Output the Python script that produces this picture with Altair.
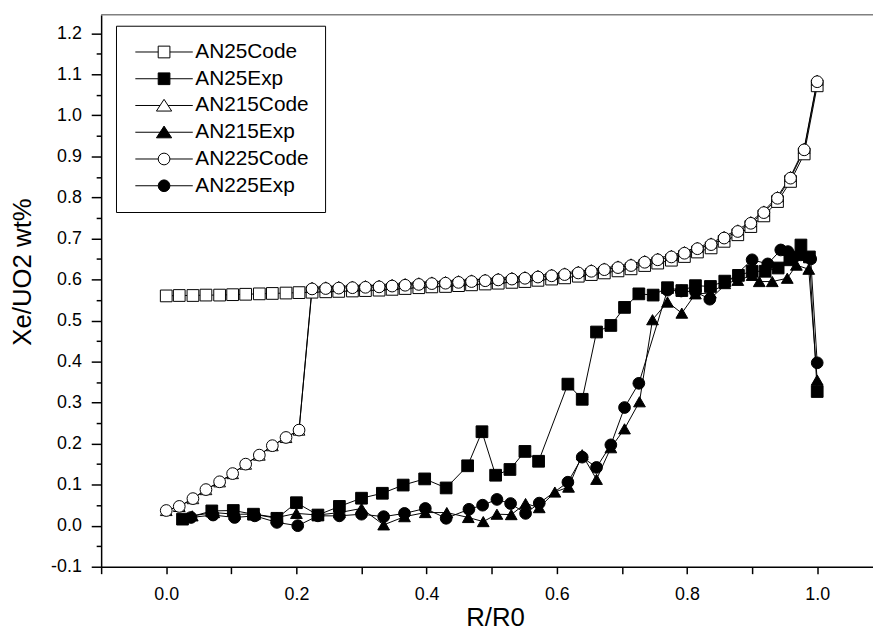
import altair as alt
import pandas as pd

FONT = "Liberation Sans"

series_names = ["AN25Code", "AN25Exp", "AN215Code", "AN215Exp", "AN225Code", "AN225Exp"]

code_x = [0.000, 0.020, 0.041, 0.061, 0.082, 0.102, 0.122, 0.143, 0.163, 0.184,
          0.204, 0.224, 0.245, 0.265, 0.286, 0.306, 0.327, 0.347, 0.367, 0.388,
          0.408, 0.429, 0.449, 0.469, 0.490, 0.510, 0.531, 0.551, 0.571, 0.592,
          0.612, 0.633, 0.653, 0.673, 0.694, 0.714, 0.735, 0.755, 0.776, 0.796,
          0.816, 0.837, 0.857, 0.878, 0.898, 0.918, 0.939, 0.959, 0.980, 1.000]

an25code_y = [0.560, 0.561, 0.561, 0.562, 0.562, 0.563, 0.564, 0.565, 0.566, 0.567,
              0.568, 0.569, 0.570, 0.571, 0.572, 0.573, 0.574, 0.576, 0.578, 0.580,
              0.582, 0.583, 0.585, 0.587, 0.589, 0.591, 0.593, 0.595, 0.598, 0.601,
              0.604, 0.608, 0.612, 0.616, 0.621, 0.626, 0.634, 0.640, 0.647, 0.656,
              0.667, 0.677, 0.693, 0.709, 0.729, 0.755, 0.790, 0.839, 0.906, 1.072]

an215code_y = [0.037, 0.047, 0.066, 0.088, 0.107, 0.127, 0.150, 0.172, 0.195, 0.215,
               0.233, 0.581, 0.582, 0.583, 0.584, 0.585, 0.586, 0.588, 0.590, 0.592,
               0.594, 0.595, 0.597, 0.599, 0.601, 0.603, 0.605, 0.607, 0.610, 0.613,
               0.616, 0.620, 0.624, 0.628, 0.633, 0.638, 0.646, 0.652, 0.659, 0.668,
               0.679, 0.689, 0.705, 0.721, 0.741, 0.767, 0.802, 0.851, 0.920, 1.086]

an225code_y = [0.037, 0.047, 0.066, 0.088, 0.107, 0.127, 0.150, 0.172, 0.195, 0.215,
               0.233, 0.577, 0.578, 0.579, 0.580, 0.581, 0.582, 0.584, 0.586, 0.588,
               0.590, 0.591, 0.593, 0.595, 0.597, 0.599, 0.601, 0.603, 0.606, 0.609,
               0.612, 0.616, 0.620, 0.624, 0.629, 0.634, 0.642, 0.648, 0.655, 0.664,
               0.675, 0.685, 0.701, 0.717, 0.737, 0.763, 0.798, 0.847, 0.916, 1.082]

an25exp_x = [0.025, 0.070, 0.103, 0.134, 0.170, 0.200, 0.233, 0.266, 0.300, 0.332,
             0.364, 0.397, 0.430, 0.463, 0.485, 0.506, 0.528, 0.551, 0.572, 0.617,
             0.639, 0.661, 0.683, 0.704, 0.726, 0.748, 0.770, 0.792, 0.813, 0.836,
             0.858, 0.879, 0.900, 0.920, 0.940, 0.958, 0.975, 0.988, 1.000]
an25exp_y = [0.016, 0.036, 0.037, 0.028, 0.018, 0.056, 0.026, 0.047, 0.067, 0.079,
             0.099, 0.114, 0.092, 0.146, 0.229, 0.123, 0.137, 0.181, 0.157, 0.345,
             0.308, 0.472, 0.488, 0.532, 0.565, 0.562, 0.580, 0.573, 0.585, 0.583,
             0.596, 0.610, 0.620, 0.620, 0.628, 0.648, 0.684, 0.655, 0.327]

an215exp_x = [0.040, 0.073, 0.105, 0.136, 0.170, 0.200, 0.233, 0.266, 0.300, 0.334,
              0.366, 0.398, 0.431, 0.464, 0.487, 0.508, 0.530, 0.552, 0.573, 0.597,
              0.618, 0.639, 0.661, 0.683, 0.704, 0.727, 0.747, 0.770, 0.792, 0.813,
              0.836, 0.858, 0.878, 0.900, 0.911, 0.931, 0.954, 0.968, 0.987, 1.000]
an215exp_y = [0.024, 0.032, 0.028, 0.028, 0.020, 0.030, 0.026, 0.032, 0.042, 0.002,
              0.022, 0.032, 0.032, 0.020, 0.010, 0.028, 0.027, 0.054, 0.044, 0.082,
              0.094, 0.173, 0.113, 0.190, 0.236, 0.302, 0.502, 0.545, 0.518, 0.565,
              0.567, 0.590, 0.598, 0.610, 0.595, 0.595, 0.603, 0.635, 0.625, 0.355]

an225exp_x = [0.038, 0.072, 0.105, 0.136, 0.170, 0.202, 0.233, 0.266, 0.300, 0.334,
              0.366, 0.398, 0.430, 0.465, 0.486, 0.508, 0.529, 0.552, 0.573, 0.617,
              0.639, 0.661, 0.683, 0.704, 0.726, 0.770, 0.791, 0.813, 0.835, 0.900,
              0.924, 0.944, 0.955, 0.965, 0.975, 0.990, 1.000]
an225exp_y = [0.020, 0.026, 0.020, 0.024, 0.008, 0.000, 0.024, 0.024, 0.028, 0.022,
              0.030, 0.042, 0.018, 0.040, 0.050, 0.064, 0.054, 0.030, 0.055, 0.106,
              0.167, 0.142, 0.197, 0.288, 0.347, 0.574, 0.572, 0.570, 0.552, 0.648,
              0.638, 0.672, 0.668, 0.655, 0.660, 0.650, 0.397]

x_tick_values = [-0.1, 0.0, 0.1, 0.2, 0.3, 0.4, 0.5, 0.6, 0.7, 0.8, 0.9, 1.0]
y_tick_values = [-0.1, -0.05, 0.0, 0.05, 0.1, 0.15, 0.2, 0.25, 0.3, 0.35, 0.4, 0.45,
                 0.5, 0.55, 0.6, 0.65, 0.7, 0.75, 0.8, 0.85, 0.9, 0.95, 1.0, 1.05,
                 1.1, 1.15, 1.2]

marker_shapes = ["square", "square", "triangle-up", "triangle-up", "circle", "circle"]
marker_fills = ["white", "black", "white", "black", "white", "black"]
marker_strokes = ["black", "black", "black", "black", "black", "black"]
marker_sizes = [140, 140, 165, 165, 165, 165]

SQ = "M-4.9,0H-1M1,0H4.9M-1,-1H1V1H-1Z"
TR = "M-4.9,0H-0.68M0.68,0H4.9M0,-1.05L1.3,0.95H-1.3Z"
CI = "M-4.9,0H-1M1,0H4.9M-1,0A1,1,0,1,0,1,0A1,1,0,1,0,-1,0Z"
legend_paths = [SQ, SQ, TR, TR, CI, CI]

pairs = [(code_x, an25code_y), (an25exp_x, an25exp_y),
         (code_x, an215code_y), (an215exp_x, an215exp_y),
         (code_x, an225code_y), (an225exp_x, an225exp_y)]
rows = []
idx = 0
for name, (xs, ys) in zip(series_names, pairs):
    for i, (a, b) in enumerate(zip(xs, ys)):
        rows.append({"series": name, "x": a, "y": b, "i": i, "idx": idx})
        idx += 1
df = pd.DataFrame(rows)

W = 779
H = 557

xscale = alt.Scale(domain=[-0.1, 1.0857], nice=False, zero=False)
yscale = alt.Scale(domain=[-0.1, 1.245], nice=False, zero=False)

xaxis = alt.Axis(
    values=x_tick_values,
    labelExpr="(abs(datum.value*5 - round(datum.value*5)) < 0.001 && datum.value > -0.05) ? format(datum.value, '.1f') : ''",
    tickSize=7, tickWidth=1.5, tickColor="black",
    domainColor="black", domainWidth=1.5,
    labelFont=FONT, labelFontSize=18, labelColor="black", labelPadding=12,
    labelFlush=False, labelOverlap=False, grid=False,
    title="R/R0", titleFont=FONT, titleFontSize=26, titleFontWeight="normal",
    titleColor="black", titleX=397.5, titleY=59, titleBaseline="alphabetic",
    titleAlign="center",
)
yaxis = alt.Axis(
    values=y_tick_values,
    labelExpr="abs(datum.value*10 - round(datum.value*10)) < 0.001 ? (datum.value < -0.01 ? '-' + format(abs(datum.value), '.1f') : format(abs(datum.value), '.1f')) : ''",
    tickSize={"condition": {"test": "abs(datum.value*10 - round(datum.value*10)) < 0.001", "value": 10}, "value": 5},
    tickWidth=1.5, tickColor="black",
    domainColor="black", domainWidth=1.5,
    labelFont=FONT, labelFontSize=18, labelColor="black", labelPadding=10,
    labelFlush=False, labelOverlap=False, grid=False,
    title="Xe/UO2 wt%", titleFont=FONT, titleFontSize=26, titleFontWeight="normal",
    titleColor="black", titleAngle=270, titleX=-79.5, titleY=259,
    titleAlign="center", titleBaseline="middle",
)

X = alt.X("x:Q", scale=xscale, axis=xaxis)
Y = alt.Y("y:Q", scale=yscale, axis=yaxis)

frame = alt.Chart(pd.DataFrame({"k": [0]})).mark_rule(
    color="#808080", strokeWidth=1.5
).encode(x=alt.value(0), x2=alt.value(W), y=alt.value(0))

lines = alt.Chart(df).mark_line(color="black", strokeWidth=1).encode(
    x=X, y=Y, detail="series:N", order="i:Q"
)

points = alt.Chart(df).mark_point(
    filled=True, stroke="black", strokeWidth=1, opacity=1
).encode(
    x=X, y=Y,
    shape=alt.Shape("series:N", scale=alt.Scale(domain=series_names, range=marker_shapes), legend=None),
    fill=alt.Fill("series:N", scale=alt.Scale(domain=series_names, range=marker_fills), legend=None),
    size=alt.Size("series:N", scale=alt.Scale(domain=series_names, range=marker_sizes), legend=None),
    order=alt.Order("idx:Q"),
)

leg = alt.Legend(
    title=None, orient="none", legendX=15, legendY=11, padding=16,
    strokeColor="black", fillColor="white",
    symbolSize=140, symbolStrokeWidth=1, symbolStrokeColor="black",
    symbolOffset=22, labelOffset=21, labelFont=FONT, labelFontSize=21,
    labelColor="black", rowPadding=5, labelLimit=0, symbolOpacity=1,
)

legend_layer = alt.Chart(df).transform_filter("false").mark_point(
    filled=True, strokeWidth=1, opacity=1
).encode(
    x=X, y=Y,
    shape=alt.Shape("series:N", scale=alt.Scale(domain=series_names, range=legend_paths), legend=leg),
    fill=alt.Fill("series:N", scale=alt.Scale(domain=series_names, range=marker_fills), legend=leg),
    stroke=alt.Stroke("series:N", scale=alt.Scale(domain=series_names, range=marker_strokes), legend=leg),
)

chart = alt.layer(frame, lines, points, legend_layer).resolve_scale(
    shape="independent", fill="independent", stroke="independent"
).properties(
    width=W, height=H,
    padding={"left": 94, "top": 4, "right": 0, "bottom": 65},
    autosize=alt.AutoSizeParams(type="none"),
).configure_view(stroke="transparent")

chart.save("out.html", embed_options={"renderer": "svg", "actions": False})
